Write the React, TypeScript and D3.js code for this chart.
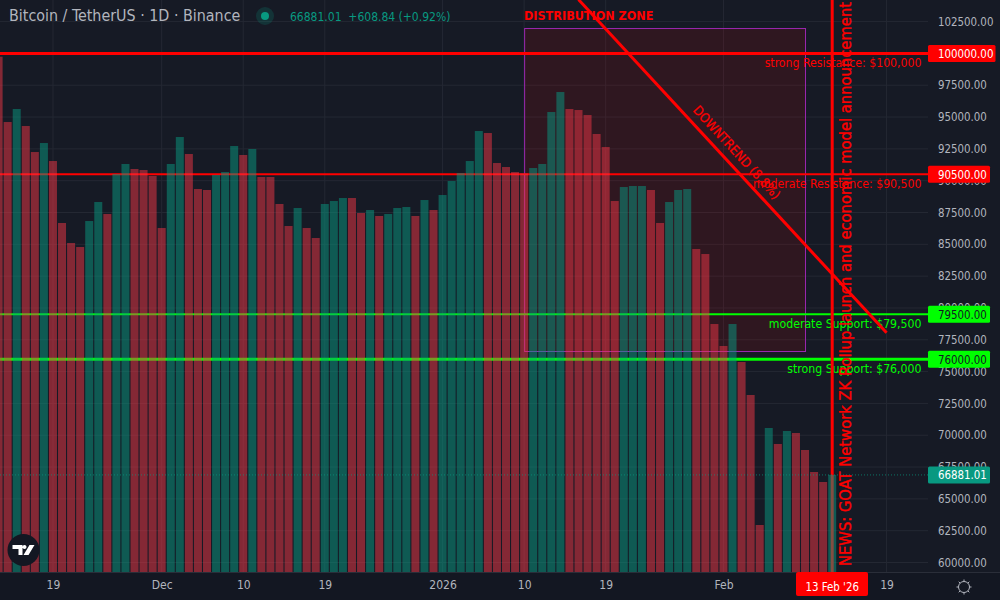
import * as d3 from 'd3';
import React, { useEffect, useRef } from 'react';

const startDate = new Date(Date.UTC(2025, 10, 13));
const endDate = new Date(Date.UTC(2026, 1, 13));

// daily closes from 13 Nov 2025 to 13 Feb 2026
const closes = [
  99744, 94610, 95632, 94296, 92253, 92960, 91546, 86675, 85103, 84789,
  86832, 88325, 87382, 90525, 91311, 90918, 90839, 90368, 86282, 91311,
  93432, 92096, 89346, 89268, 90446, 90682, 92725, 92018, 92489, 90289,
  90289, 88168, 86439, 87853, 86282, 85496, 88168, 88403, 88639, 88639,
  87461, 87696, 87225, 87382, 87853, 87932, 87225, 88482, 87696, 88875,
  89975, 90603, 91546, 93903, 93746, 91389, 91075, 90682, 90577, 90996,
  91311, 95396, 96968, 95632, 95553, 95160, 93668, 92646, 88403, 89503,
  89582, 89582, 89268, 86675, 88325, 89268, 89346, 84632, 84239, 78739,
  77011, 78739, 75754, 73161, 62947, 70568, 69311, 70332, 70175, 68839,
  67111, 66325, 66881,
];
// 1 = up day (green), 0 = down day (red)
const upFlags = [
  0, 0, 1, 0, 0, 1, 0, 0, 0, 0, 1, 1, 0, 1, 1, 0, 0, 0, 0, 1,
  1, 0, 0, 0, 1, 1, 1, 0, 1, 0, 0, 0, 0, 1, 0, 0, 1, 1, 1, 0,
  0, 1, 0, 1, 1, 1, 0, 1, 0, 1, 1, 1, 1, 1, 0, 0, 0, 0, 0, 1,
  1, 1, 1, 0, 0, 0, 0, 0, 0, 1, 1, 1, 0, 0, 1, 1, 1, 0, 0, 0,
  0, 1, 0, 0, 0, 1, 0, 1, 0, 0, 0, 0, 1,
];

const priceTicks = d3.range(60000, 102501, 2500);
const timeTicks = [
  { date: new Date(Date.UTC(2025, 10, 19)), label: '19' },
  { date: new Date(Date.UTC(2025, 11, 1)), label: 'Dec' },
  { date: new Date(Date.UTC(2025, 11, 10)), label: '10' },
  { date: new Date(Date.UTC(2025, 11, 19)), label: '19' },
  { date: new Date(Date.UTC(2026, 0, 1)), label: '2026' },
  { date: new Date(Date.UTC(2026, 0, 10)), label: '10' },
  { date: new Date(Date.UTC(2026, 0, 19)), label: '19' },
  { date: new Date(Date.UTC(2026, 1, 1)), label: 'Feb' },
  { date: new Date(Date.UTC(2026, 1, 19)), label: '19' },
];

const levels = [
  { price: 100000, text: 'strong Resistance: $100,000', color: '#ff0000', labelColor: '#ffffff', weight: 3, boxRight: 995.5 },
  { price: 90500, text: 'moderate Resistance: $90,500', color: '#ff0000', labelColor: '#ffffff', weight: 2, boxRight: 990 },
  { price: 79500, text: 'moderate Support: $79,500', color: '#00ff00', labelColor: '#131722', weight: 2, boxRight: 990 },
  { price: 75970, text: 'strong Support: $76,000', color: '#00ff00', labelColor: '#131722', weight: 3, boxRight: 990 },
];

const lastPrice = 66881.01;
const zoneTop = 101956;
const zoneBottom = 76578;
const zoneStart = new Date(Date.UTC(2026, 0, 10));
const zoneEnd = new Date(Date.UTC(2026, 1, 10));
const trendStart = { date: new Date(Date.UTC(2026, 0, 16)), price: 104230 };
const trendEnd = { date: new Date(Date.UTC(2026, 1, 19)), price: 78050 };

const BG = '#161a25';
const GRID = '#242833';
const AXIS_TEXT = '#b2b5be';
const GREEN = '#089981';
const RED = '#f23645';
const FONT = '"DejaVu Sans Condensed", "DejaVu Sans", sans-serif';

export default function App() {
  const ref = useRef<SVGSVGElement | null>(null);

  useEffect(() => {
    if (!ref.current) return;
    const svg = d3.select(ref.current);
    svg.selectAll('*').remove();
    svg.style('font-family', FONT);

    const plotW = 928;
    const plotH = 572;

    const x = d3.scaleUtc().domain([startDate, endDate]).range([-1.4, 832.2]);
    const y = d3.scaleLinear().domain([60000, 102500]).range([562.5, 21.6]);
    const barW = 8;

    svg.append('rect').attr('width', 1000).attr('height', 600).attr('fill', BG);

    // grid
    const grid = svg.append('g');
    grid.selectAll('.h').data(priceTicks).enter().append('line')
      .attr('x1', 0).attr('x2', plotW)
      .attr('y1', (d) => y(d)).attr('y2', (d) => y(d))
      .attr('stroke', GRID);
    grid.selectAll('.v').data(timeTicks).enter().append('line')
      .attr('x1', (d) => x(d.date)).attr('x2', (d) => x(d.date))
      .attr('y1', 0).attr('y2', plotH)
      .attr('stroke', GRID);

    // drawings sit under the bars
    const zoneX = x(zoneStart);
    svg.append('rect')
      .attr('x', zoneX + 0.5).attr('y', y(zoneTop))
      .attr('width', x(zoneEnd) - zoneX).attr('height', y(zoneBottom) - y(zoneTop))
      .attr('fill', 'rgba(255,0,0,0.11)').attr('stroke', '#9c27b0');

    svg.append('text').attr('x', 524).attr('y', 20)
      .attr('fill', '#ff0000').attr('font-size', 12.5).attr('font-weight', 'bold')
      .text('DISTRIBUTION ZONE');

    levels.forEach((l) => {
      svg.append('line')
        .attr('x1', 0).attr('x2', plotW)
        .attr('y1', y(l.price)).attr('y2', y(l.price))
        .attr('stroke', l.color).attr('stroke-width', l.weight);
      svg.append('text')
        .attr('x', 921.5).attr('y', y(l.price) + 14)
        .attr('text-anchor', 'end').attr('fill', l.color).attr('font-size', 12.2)
        .text(l.text);
    });

    svg.append('line')
      .attr('x1', x(trendStart.date)).attr('y1', y(trendStart.price))
      .attr('x2', x(trendEnd.date)).attr('y2', y(trendEnd.price))
      .attr('stroke', '#ff0000').attr('stroke-width', 3);

    const trendAngle = (Math.atan2(
      y(trendEnd.price) - y(trendStart.price),
      x(trendEnd.date) - x(trendStart.date),
    ) * 180) / Math.PI;
    svg.append('text')
      .attr('transform', `translate(729,159.5) rotate(${trendAngle})`)
      .attr('text-anchor', 'middle').attr('y', -6)
      .attr('fill', '#ff0000').attr('font-size', 13)
      .attr('stroke', '#ff0000').attr('stroke-width', 0.25)
      .text('DOWNTREND (8.8%)');

    const newsDate = endDate;
    svg.append('line')
      .attr('x1', x(newsDate)).attr('x2', x(newsDate))
      .attr('y1', 0).attr('y2', plotH)
      .attr('stroke', '#ff0000').attr('stroke-width', 3);
    svg.append('text')
      .attr('transform', `translate(850.5,566) rotate(-90)`)
      .attr('fill', '#ff0000').attr('font-size', 16.4)
      .attr('stroke', '#ff0000').attr('stroke-width', 0.35)
      .text('NEWS: GOAT Network ZK Rollup launch and economic model announcement');

    // bars
    svg.append('g').selectAll('rect').data(closes).enter().append('rect')
      .attr('x', (_, i) => x(d3.utcDay.offset(startDate, i)) - barW / 2)
      .attr('y', (d) => y(d))
      .attr('width', barW)
      .attr('height', (d) => plotH - y(d))
      .attr('fill', (_, i) => (upFlags[i] ? GREEN : RED))
      .attr('opacity', 0.5);

    // last price dotted line
    svg.append('line')
      .attr('x1', 0).attr('x2', plotW)
      .attr('y1', y(lastPrice)).attr('y2', y(lastPrice))
      .attr('stroke', GREEN).attr('stroke-dasharray', '1 2').attr('opacity', 0.7);

    // time axis strip
    svg.append('rect').attr('y', plotH).attr('width', 1000).attr('height', 28).attr('fill', '#131722');
    svg.append('line').attr('x1', 0).attr('x2', 1000).attr('y1', plotH + 0.5).attr('y2', plotH + 0.5).attr('stroke', '#2a2e39');

    const timeAxis = d3.axisBottom(x)
      .tickValues(timeTicks.map((t) => t.date))
      .tickFormat((_, i) => timeTicks[i].label)
      .tickSize(0).tickPadding(8);
    const tg = svg.append('g').attr('transform', `translate(0,${plotH})`).call(timeAxis);
    tg.select('.domain').remove();
    tg.selectAll('text').attr('fill', AXIS_TEXT).attr('font-size', 12).style('font-family', FONT);

    svg.append('rect').attr('x', 796).attr('y', plotH).attr('width', 72).attr('height', 24).attr('rx', 2).attr('fill', '#ff0000');
    svg.append('text').attr('x', x(endDate)).attr('y', 591)
      .attr('text-anchor', 'middle').attr('fill', '#ffffff').attr('font-size', 11.4)
      .text("13 Feb '26");

    // price axis
    const priceAxis = d3.axisRight(y)
      .tickValues(priceTicks)
      .tickFormat((d) => (d as number).toFixed(2))
      .tickSize(0).tickPadding(10);
    const pg = svg.append('g').attr('transform', `translate(${plotW},0)`).call(priceAxis);
    pg.select('.domain').remove();
    pg.selectAll('text').attr('fill', AXIS_TEXT).attr('font-size', 11.4).style('font-family', FONT);

    levels.forEach((l) => {
      const shown = Math.round(l.price / 500) * 500;
      svg.append('rect')
        .attr('x', plotW).attr('y', y(l.price) - 8.5)
        .attr('width', l.boxRight - plotW).attr('height', 17).attr('rx', 1.5)
        .attr('fill', l.color);
      svg.append('text')
        .attr('x', 938).attr('y', y(l.price) + 4.5)
        .attr('fill', l.labelColor).attr('font-size', 11.4)
        .text(shown.toFixed(2));
    });
    svg.append('rect')
      .attr('x', plotW).attr('y', y(lastPrice) - 8.5)
      .attr('width', 62).attr('height', 17).attr('rx', 1.5)
      .attr('fill', GREEN);
    svg.append('text')
      .attr('x', 938).attr('y', y(lastPrice) + 4.5)
      .attr('fill', '#ffffff').attr('font-size', 11.4)
      .text(lastPrice.toFixed(2));

    // header
    svg.append('text').attr('x', 9).attr('y', 21)
      .attr('fill', AXIS_TEXT).attr('font-size', 15.9)
      .text('Bitcoin / TetherUS · 1D · Binance');
    svg.append('circle').attr('cx', 265).attr('cy', 16).attr('r', 9).attr('fill', GREEN).attr('opacity', 0.2);
    svg.append('circle').attr('cx', 265).attr('cy', 16).attr('r', 4).attr('fill', GREEN);
    svg.append('text').attr('x', 290).attr('y', 21)
      .attr('fill', GREEN).attr('font-size', 12)
      .attr('xml:space', 'preserve')
      .text('66881.01  +608.84 (+0.92%)');

    // logo
    const logo = svg.append('g').attr('transform', 'translate(23.5,550)');
    logo.append('circle').attr('r', 16).attr('fill', '#131722');
    logo.append('path').attr('fill', '#ffffff')
      .attr('d', 'M-11,-5 H-1 V5 H-5 V-1 H-11 Z M1,-5 a2,2 0 1,0 0.01,0 Z M6,-5 H11 L5,5 H0 Z');

    // settings gear
    const gear = svg.append('g').attr('transform', 'translate(964,587)')
      .attr('stroke', AXIS_TEXT).attr('fill', 'none');
    gear.append('circle').attr('r', 5.5);
    gear.selectAll('line').data(d3.range(8)).enter().append('line')
      .attr('x1', (d) => 5.5 * Math.cos((d * Math.PI) / 4))
      .attr('y1', (d) => 5.5 * Math.sin((d * Math.PI) / 4))
      .attr('x2', (d) => 7.5 * Math.cos((d * Math.PI) / 4))
      .attr('y2', (d) => 7.5 * Math.sin((d * Math.PI) / 4));
  }, []);

  return (
    <svg
      ref={ref}
      width={1000}
      height={600}
      style={{ position: 'fixed', left: 0, top: 0, display: 'block' }}
    />
  );
}
